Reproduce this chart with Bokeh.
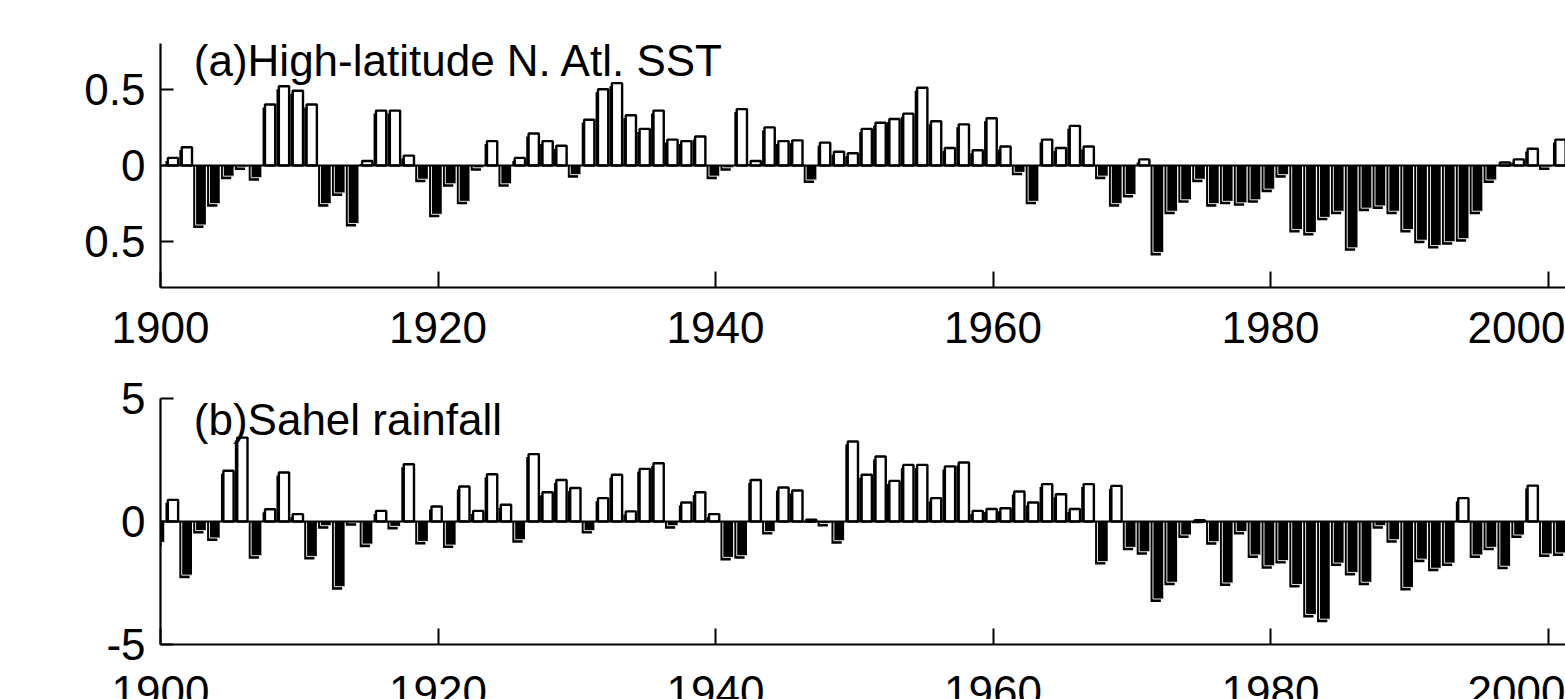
from bokeh.plotting import figure
from bokeh.layouts import column
from bokeh.models import Range1d, Span, Label, FixedTicker
from bokeh.embed import file_html
from bokeh.resources import INLINE

# ---------------- data ----------------
sst_years = list(range(1901, 2002))
sst_values = [
    0.05, 0.12, -0.39, -0.25, -0.07, -0.01, -0.08, 0.40, 0.52, 0.49,
    0.40, -0.25, -0.18, -0.38, 0.03, 0.36, 0.36, 0.065, -0.09, -0.32,
    -0.12, -0.235, -0.015, 0.16, -0.12, 0.05, 0.21, 0.16, 0.13, -0.06,
    0.30, 0.50, 0.54, 0.33, 0.24, 0.36, 0.17, 0.16, 0.19, -0.07,
    -0.015, 0.37, 0.03, 0.25, 0.16, 0.165, -0.095, 0.15, 0.09, 0.08,
    0.24, 0.28, 0.305, 0.34, 0.51, 0.29, 0.115, 0.27, 0.10, 0.31,
    0.125, -0.045, -0.235, 0.17, 0.115, 0.26, 0.125, -0.07, -0.25, -0.19,
    0.04, -0.57, -0.30, -0.225, -0.09, -0.25, -0.235, -0.245, -0.225, -0.155,
    -0.06, -0.42, -0.44, -0.34, -0.30, -0.54, -0.28, -0.265, -0.30, -0.42,
    -0.49, -0.525, -0.50, -0.48, -0.30, -0.095, 0.02, 0.04, 0.11, -0.01,
    0.17,
]

sahel_years = list(range(1900, 2002))
sahel_values = [
    -0.85, 0.88, -2.18, -0.37, -0.67, 2.06, 3.41, -1.39, 0.50, 1.99,
    0.30, -1.42, -0.17, -2.65, -0.05, -0.92, 0.43, -0.20, 2.33, -0.81,
    0.61, -0.96, 1.42, 0.43, 1.92, 0.68, -0.74, 2.74, 1.19, 1.69,
    1.36, -0.37, 0.95, 1.90, 0.41, 2.14, 2.37, -0.17, 0.77, 1.19,
    0.30, -1.46, -1.39, 1.69, -0.41, 1.38, 1.26, 0.07, -0.08, -0.78,
    3.25, 1.90, 2.64, 1.65, 2.30, 2.30, 0.95, 2.24, 2.40, 0.43,
    0.51, 0.54, 1.22, 0.77, 1.52, 1.11, 0.51, 1.52, -1.63, 1.45,
    -1.05, -1.23, -3.15, -2.47, -0.55, 0.05, -0.82, -2.50, -0.41, -1.36,
    -1.80, -1.59, -2.56, -3.78, -3.97, -1.69, -2.07, -2.47, -0.17, -0.74,
    -2.68, -1.53, -1.90, -1.69, 0.95, -1.36, -1.05, -1.82, -0.55, 1.46,
    -1.32, -1.28,
]

x_ticks = [1900, 1920, 1940, 1960, 1980, 2000]
sst_ticks = [-0.5, 0, 0.5]
sst_tick_labels = ["0.5", "0", "0.5"]
sahel_ticks = [-5, 0, 5]
sahel_tick_labels = ["-5", "0", "5"]
titles = ["(a)High-latitude N. Atl. SST", "(b)Sahel rainfall"]

FONT = "Liberation Sans"
FS = "44px"
PX_PER_YEAR = 13.875
FRAME_W = 1405
x_range = Range1d(1900, 1900 + FRAME_W / PX_PER_YEAR)


def make_panel(years, values, yr, ticks, tick_labels, frame_h, top, bottom,
               title, title_y, standoff_x):
    p = figure(frame_width=FRAME_W, frame_height=frame_h,
               x_range=x_range, y_range=Range1d(*yr),
               min_border_left=160, min_border_right=0,
               min_border_top=top, min_border_bottom=bottom,
               output_backend="svg", toolbar_location=None)
    p.outline_line_color = None
    p.grid.visible = False
    p.background_fill_color = "white"
    p.border_fill_color = "white"

    px_per_unit = frame_h / (yr[1] - yr[0])
    w = 0.74
    dx = 2.4 / PX_PER_YEAR
    dy = 3.0 / px_per_unit
    xc = [y - 0.1 for y in years]

    pos = dict(x=[], v=[])
    neg = dict(x=[], v=[])
    for x, v in zip(xc, values):
        d = pos if v >= 0 else neg
        d["x"].append(x)
        d["v"].append(v)

    # shadows
    p.quad(left=[x - w / 2 - dx for x in pos["x"]], right=[x + w / 2 - dx for x in pos["x"]],
           bottom=[0] * len(pos["x"]), top=[v - dy for v in pos["v"]],
           fill_color="black", line_color=None)
    p.quad(left=[x - w / 2 - dx for x in neg["x"]], right=[x + w / 2 - dx for x in neg["x"]],
           top=[0] * len(neg["x"]), bottom=[v - dy for v in neg["v"]],
           fill_color="black", line_color=None)
    # main bars
    p.quad(left=[x - w / 2 for x in pos["x"]], right=[x + w / 2 for x in pos["x"]],
           bottom=[0] * len(pos["x"]), top=pos["v"],
           fill_color="white", line_color="black", line_width=2.4)
    p.quad(left=[x - w / 2 for x in neg["x"]], right=[x + w / 2 for x in neg["x"]],
           top=[0] * len(neg["x"]), bottom=neg["v"],
           fill_color="black", line_color=None)
    # light edges on the negative bars
    p.segment(x0=[x - w / 2 for x in neg["x"]], x1=[x - w / 2 for x in neg["x"]],
              y0=[0] * len(neg["x"]), y1=neg["v"], line_color="#e6e6e6", line_width=1)
    p.segment(x0=[x - w / 2 for x in neg["x"]], x1=[x + w / 2 for x in neg["x"]],
              y0=neg["v"], y1=neg["v"], line_color="#e6e6e6", line_width=1)

    p.add_layout(Span(location=0, dimension="width", line_color="black", line_width=2.2))

    for ax in (p.xaxis[0], p.yaxis[0]):
        ax.axis_line_width = 2.2
        ax.axis_line_color = "black"
        ax.major_tick_line_width = 2
        ax.major_tick_line_color = "black"
        ax.major_tick_out = 0
        ax.minor_tick_line_color = None
        ax.major_label_text_font = FONT
        ax.major_label_text_font_size = FS
        ax.major_label_text_color = "black"

    p.xaxis.ticker = FixedTicker(ticks=x_ticks)
    p.xaxis.major_tick_in = 16
    p.xaxis.major_label_standoff = standoff_x
    p.yaxis.ticker = FixedTicker(ticks=ticks)
    p.yaxis.major_label_overrides = {t: s for t, s in zip(ticks, tick_labels)}
    p.yaxis.major_tick_in = 13
    p.yaxis.major_label_standoff = 15

    p.add_layout(Label(x=1902.4, y=title_y, text=title, text_font=FONT,
                       text_font_size=FS, text_color="black",
                       text_baseline="alphabetic", text_align="left"))
    return p


p1 = make_panel(sst_years, sst_values, (-0.8, 0.8), sst_ticks, sst_tick_labels,
                244, 43, 84, titles[0], 0.69, 24)
p2 = make_panel(sahel_years, sahel_values, (-5, 5), sahel_ticks, sahel_tick_labels,
                246, 27, 60, titles[1], 4.15, 31)

layout = column(p1, p2)

open("out.html", "w").write(file_html(layout, INLINE))
